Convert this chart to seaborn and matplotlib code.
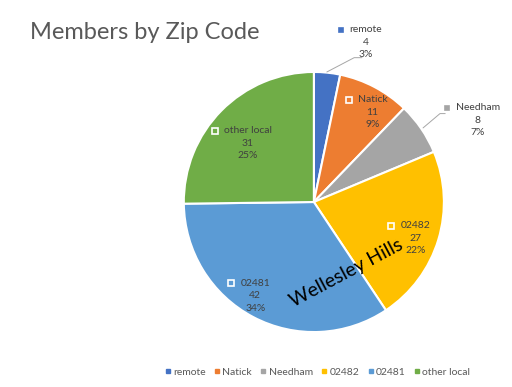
import seaborn as sns
import matplotlib
import matplotlib.pyplot as plt
from matplotlib.transforms import offset_copy
import numpy as np

sns.set_theme(style="white")
plt.rcParams['font.family'] = ['Lato', 'DejaVu Sans']

# data
zips = ["remote", "Natick", "Needham", "02482", "02481", "other local"]
members = [4, 11, 8, 27, 42, 31]
colors = ['#4472C4', '#ED7D31', '#A5A5A5', '#FFC000', '#5B9BD5', '#70AD47']

# label positions (centre of the middle line) in pie units, radius = 1
label_pos = [(0.40, 1.23), (0.45, 0.69), (1.26, 0.63),
             (0.78, -0.28), (-0.45, -0.72), (-0.51, 0.45)]

fig = plt.figure(figsize=(5.12, 3.87), dpi=100)
ax = fig.add_axes([0.359, 0.142, 0.508, 0.672])
wedges, _ = ax.pie(members, colors=colors, startangle=90, counterclock=False,
                   wedgeprops=dict(edgecolor='white', linewidth=1.5))
ax.set_xlim(-1, 1)
ax.set_ylim(-1, 1)
ax.set_aspect('equal')

total = sum(members)
txt_col = '#404040'
fs = 7.5
step = 9  # points between label lines
names = []
for i, (name, val) in enumerate(zip(zips, members)):
    x, y = label_pos[i]
    pct = f"{round(val / total * 100):.0f}%"
    ax.text(x, y, str(val), ha='center', va='center', fontsize=fs, color=txt_col)
    ax.text(x, y, pct, ha='center', va='center', fontsize=fs, color=txt_col,
            transform=offset_copy(ax.transData, fig=fig, y=-step, units='points'))
    t = ax.text(x, y, name, ha='center', va='center', fontsize=fs, color=txt_col,
                transform=offset_copy(ax.transData, fig=fig, y=step, units='points'))
    names.append(t)

fig.canvas.draw()
inv = ax.transData.inverted()
for i, t in enumerate(names):
    bb = t.get_window_extent()
    mx, my = inv.transform((bb.x0 - 9, (bb.y0 + bb.y1) / 2))
    outside = i in (0, 2)
    ax.plot(mx, my, marker='s', ms=4.5 if not outside else 3.5,
            mfc=colors[i], mec='white' if not outside else colors[i], mew=1.2,
            clip_on=False)

# leader lines for outside labels
ax.plot([0.10, 0.31, 0.37], [1.0, 1.11, 1.11], color='#A6A6A6', lw=0.7, clip_on=False)
ax.plot([0.84, 0.97, 1.01], [0.57, 0.68, 0.68], color='#A6A6A6', lw=0.7, clip_on=False)

ax.text(0.25, -0.55, "Wellesley Hills", rotation=28, ha='center', va='center',
        fontsize=14, color='black', rotation_mode='anchor')

fig.text(0.058, 0.915, "Members by Zip Code", fontsize=17, color='#595959',
         ha='left', va='center')

handles = [matplotlib.lines.Line2D([], [], marker='s', ls='', ms=3.5, mfc=c, mec=c)
           for c in colors]
fig.legend(handles, zips, loc='center', bbox_to_anchor=(0.62, 0.038), ncol=6,
           frameon=False, fontsize=7.5, handlelength=0.6, handletextpad=0.2,
           columnspacing=0.8, labelcolor='#595959')

fig.savefig("out.png", dpi=100)
